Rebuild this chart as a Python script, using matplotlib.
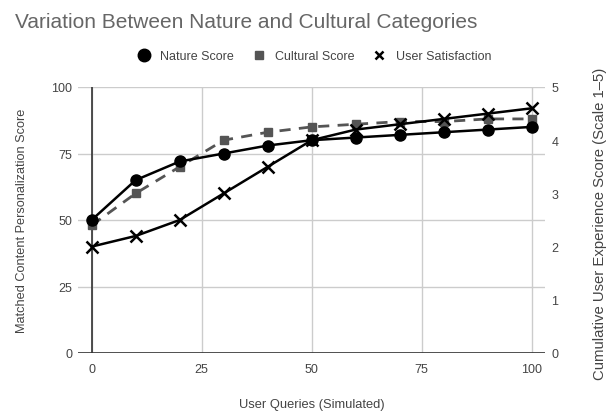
import matplotlib
matplotlib.use("Agg")
import matplotlib.pyplot as plt
from matplotlib.lines import Line2D

plt.rcParams['font.family'] = ['Liberation Sans', 'DejaVu Sans']

queries = [0, 10, 20, 30, 40, 50, 60, 70, 80, 90, 100]
nature = [50, 65, 72, 75, 78, 80, 81, 82, 83, 84, 85]
cultural = [48, 60, 70, 80, 83, 85, 86, 87, 87, 88, 88]
satisfaction = [2.0, 2.2, 2.5, 3.0, 3.5, 4.0, 4.2, 4.3, 4.4, 4.5, 4.6]

left_ticks = [0, 25, 50, 75, 100]
right_ticks = [0, 1, 2, 3, 4, 5]
x_ticks = [0, 25, 50, 75, 100]

title = "Variation Between Nature and Cultural Categories"
xlabel = "User Queries (Simulated)"
ylabel_left = "Matched Content Personalization Score"
ylabel_right = "Cumulative User Experience Score (Scale 1\u20135)"

txt = "#444444"
fig = plt.figure(figsize=(6.13, 4.14), dpi=100)
ax = fig.add_axes([78 / 613, 60 / 414, 467 / 613, 266 / 414])
ax2 = ax.twinx()

ax.set_xlim(-3.1, 103)
ax.set_ylim(0, 100)
ax2.set_ylim(0, 5)

ax.set_xticks(x_ticks)
ax.set_yticks(left_ticks)
ax2.set_yticks(right_ticks)
ax.grid(True, color="#cccccc", linewidth=1)
ax.set_axisbelow(True)
for a in (ax, ax2):
    for s in a.spines.values():
        s.set_visible(False)
    a.tick_params(length=0, labelsize=9, colors=txt)
ax.tick_params(axis='x', pad=7)
ax.tick_params(axis='y', pad=4)
ax2.tick_params(axis='y', pad=4.5)

ax.axhline(0, color="#333333", linewidth=1.2, zorder=2)
ax.axvline(0, color="#333333", linewidth=1.2, zorder=2)

ax.plot(queries, cultural, color="#555555", linestyle=(0, (4, 3)), linewidth=2,
        marker='s', markersize=6, zorder=3)
ax.plot(queries, nature, color="black", linewidth=1.8, marker='o', markersize=8, zorder=4)
ax2.plot(queries, satisfaction, color="black", linewidth=1.8, marker='x', markersize=9,
         markeredgewidth=1.8, zorder=5)

ax.set_xlabel(xlabel, fontsize=9.3, color=txt, va='center')
ax.xaxis.set_label_coords(0.5, (354 - 405) / 266)
ax.set_ylabel(ylabel_left, fontsize=9.2, color=txt, va='center')
ax.yaxis.set_label_coords((22 - 78) / 467, 0.5)
ax2.set_ylabel(ylabel_right, fontsize=10.7, color=txt, va='center')
ax2.yaxis.set_label_coords((600 - 78) / 467, (414 - 223.5 - 60) / 266)

fig.text(15 / 613, (414 - 28) / 414, title, fontsize=15, color="#666666",
         ha='left', va='baseline')

handles = [
    Line2D([], [], linestyle='none', marker='o', color='black', markersize=9),
    Line2D([], [], linestyle='none', marker='s', color='#555555', markersize=6),
    Line2D([], [], linestyle='none', marker='x', color='black', markersize=6, markeredgewidth=1.8),
]
labels = ["Nature Score", "Cultural Score", "User Satisfaction"]
fig.legend(handles, labels, loc='center', bbox_to_anchor=(311 / 613, (414 - 57) / 414), ncol=3,
           frameon=False, fontsize=9, handletextpad=0.3, columnspacing=1.0,
           labelcolor=txt)

fig.savefig("out.png", dpi=100)
